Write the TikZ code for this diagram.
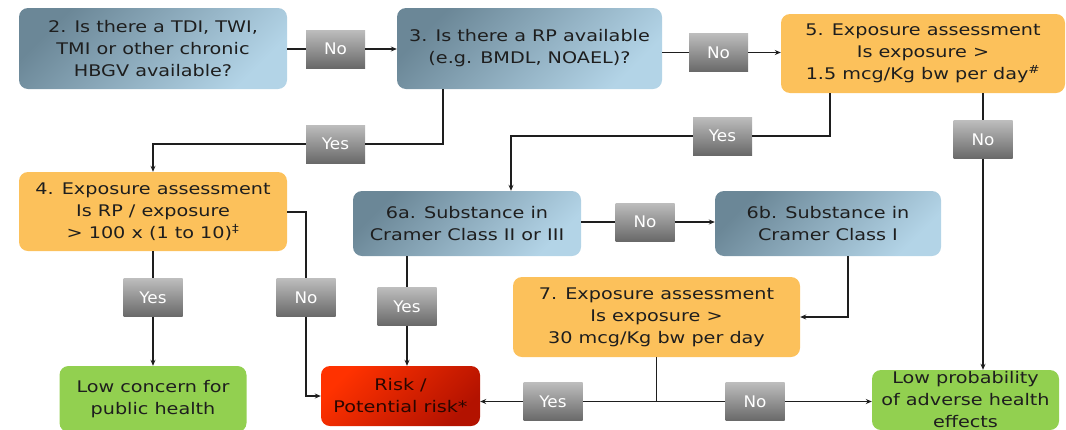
\documentclass[tikz,border=0pt]{standalone}
\usepackage{fontspec}
\setmainfont{DejaVu Sans}[FakeStretch=1.2]
\newfontfamily\lblfont{DejaVu Sans}[FakeStretch=1.05]
\usetikzlibrary{arrows.meta}
\definecolor{ink}{HTML}{1E1E1E}
\definecolor{bluedark}{HTML}{6B8797}
\definecolor{bluelight}{HTML}{B3D4E7}
\definecolor{orangefill}{HTML}{FCC15B}
\definecolor{greenfill}{HTML}{92D050}
\definecolor{greytop}{HTML}{BDBDBD}
\definecolor{greybot}{HTML}{696969}
\definecolor{reda}{HTML}{FF3200}
\definecolor{redb}{HTML}{B31200}
\definecolor{riskink}{HTML}{2A0600}
\begin{document}
\begin{tikzpicture}[x=1pt,y=-1pt,
  box/.style={rounded corners=9pt, align=center, text=ink, inner sep=0pt,
    font=\fontsize{16}{22}\selectfont},
  qbox/.style={box, top color=bluedark, bottom color=bluelight, shading angle=45},
  ebox/.style={box, fill=orangefill},
  gbox/.style={box, fill=greenfill},
  rbox/.style={box, top color=reda, bottom color=redb, shading angle=45, text=riskink},
  lbl/.style={top color=greytop, bottom color=greybot, text=white, inner sep=0pt,
    minimum width=59pt, minimum height=38pt, font=\lblfont\fontsize{16}{18}\selectfont},
  wire/.style={draw=ink, line width=1.3pt},
  arr/.style={wire, -{Stealth[length=6pt,width=5pt]}},
]
\useasboundingbox (0,0) rectangle (1066,429);
\clip (0,0) rectangle (1066,429);

% decision and assessment boxes
\node[qbox, minimum width=268pt, minimum height=81pt] (q2) at (153,48.5)
  {2. Is there a TDI, TWI,\\TMI or other chronic\\HBGV available?};
\node[qbox, minimum width=265pt, minimum height=81pt] (q3) at (529.5,48.5)
  {3. Is there a RP available\\(e.g. BMDL, NOAEL)?};
\node[ebox, minimum width=284pt, minimum height=79pt] (e5) at (923,53.5)
  {5. Exposure assessment\\Is exposure >\\1.5 mcg/Kg bw per day\textsuperscript{\#}};
\node[ebox, minimum width=268pt, minimum height=79pt] (e4) at (153,211.5)
  {4. Exposure assessment\\Is RP / exposure\\> 100 x (1 to 10)\textsuperscript{‡}};
\node[qbox, minimum width=228pt, minimum height=65pt] (q6a) at (467,223.5)
  {6a. Substance in\\Cramer Class II or III};
\node[qbox, minimum width=226pt, minimum height=65pt] (q6b) at (828,223.5)
  {6b. Substance in\\Cramer Class I};
\node[ebox, minimum width=287pt, minimum height=80pt] (e7) at (656.5,317)
  {7. Exposure assessment\\Is exposure >\\30 mcg/Kg bw per day};

% outcomes
\node[rbox, minimum width=159pt, minimum height=60pt] (risk) at (400.5,396)
  {Risk /\\Potential risk*};
\node[gbox, minimum width=187pt, minimum height=66pt] (low) at (153,399)
  {Low concern for\\public health};
\node[gbox, minimum width=187pt, minimum height=60pt] (lowp) at (965.5,400)
  {Low probability\\of adverse health\\effects};

% yes / no labels
\node[lbl] (n1) at (335.5,49) {No};
\node[lbl] (n2) at (718.5,52.5) {No};
\node[lbl] (y1) at (335.5,144) {Yes};
\node[lbl] (y2) at (722.5,136) {Yes};
\node[lbl] (n3) at (983,139.5) {No};
\node[lbl] (y4) at (153,297.5) {Yes};
\node[lbl] (n4) at (306,297.5) {No};
\node[lbl] (n6) at (645,222) {No};
\node[lbl] (y6) at (407,306.5) {Yes};
\node[lbl] (y7) at (553,401.5) {Yes};
\node[lbl] (n7) at (755,401.5) {No};

% junction points
\coordinate (c3) at (443,144);
\coordinate (c5) at (830,136);
\coordinate (c6) at (511,136);
\coordinate (c4) at (306,212);
\coordinate (c6b) at (848,317);
\coordinate (j7) at (656.5,401.5);

% connectors
\draw[wire] (q2.east |- n1) -- (n1.west);
\draw[arr] (n1.east) -- (n1.east -| q3.west);
\draw[wire] (n2 -| q3.east) -- (n2.west);
\draw[arr] (n2.east) -- (n2.east -| e5.west);

\draw[wire] (q3.south -| c3) -- (c3) -- (y1.east);
\draw[arr] (y1.west) -- (y1.west -| e4.north) -- (e4.north);

\draw[wire] (e5.south -| c5) -- (c5) -- (y2.east);
\draw[arr] (y2.west) -- (c6) -- (q6a.north -| c6);

\draw[wire] (e5.south -| n3) -- (n3.north);
\draw[arr] (n3.south) -- (lowp.north -| n3);

\draw[wire] (e4.south) -- (y4.north);
\draw[arr] (y4.south) -- (low.north);

\draw[wire] (e4.east |- c4) -- (c4) -- (n4.north);
\draw[arr] (n4.south) -- (n4.south |- risk.west) -- (risk.west);

\draw[wire] (q6a.south -| y6) -- (y6.north);
\draw[arr] (y6.south) -- (risk.north -| y6);

\draw[wire] (q6a.east |- n6) -- (n6.west);
\draw[arr] (n6.east) -- (n6.east -| q6b.west);

\draw[arr] (q6b.south -| c6b) -- (c6b) -- (e7.east |- c6b);

\draw[wire] (e7.south) -- (j7);
\draw[wire] (j7) -- (y7.east);
\draw[arr] (y7.west) -- (y7.west -| risk.east);
\draw[wire] (j7) -- (n7.west);
\draw[arr] (n7.east) -- (n7.east -| lowp.west);
\end{tikzpicture}
\end{document}
